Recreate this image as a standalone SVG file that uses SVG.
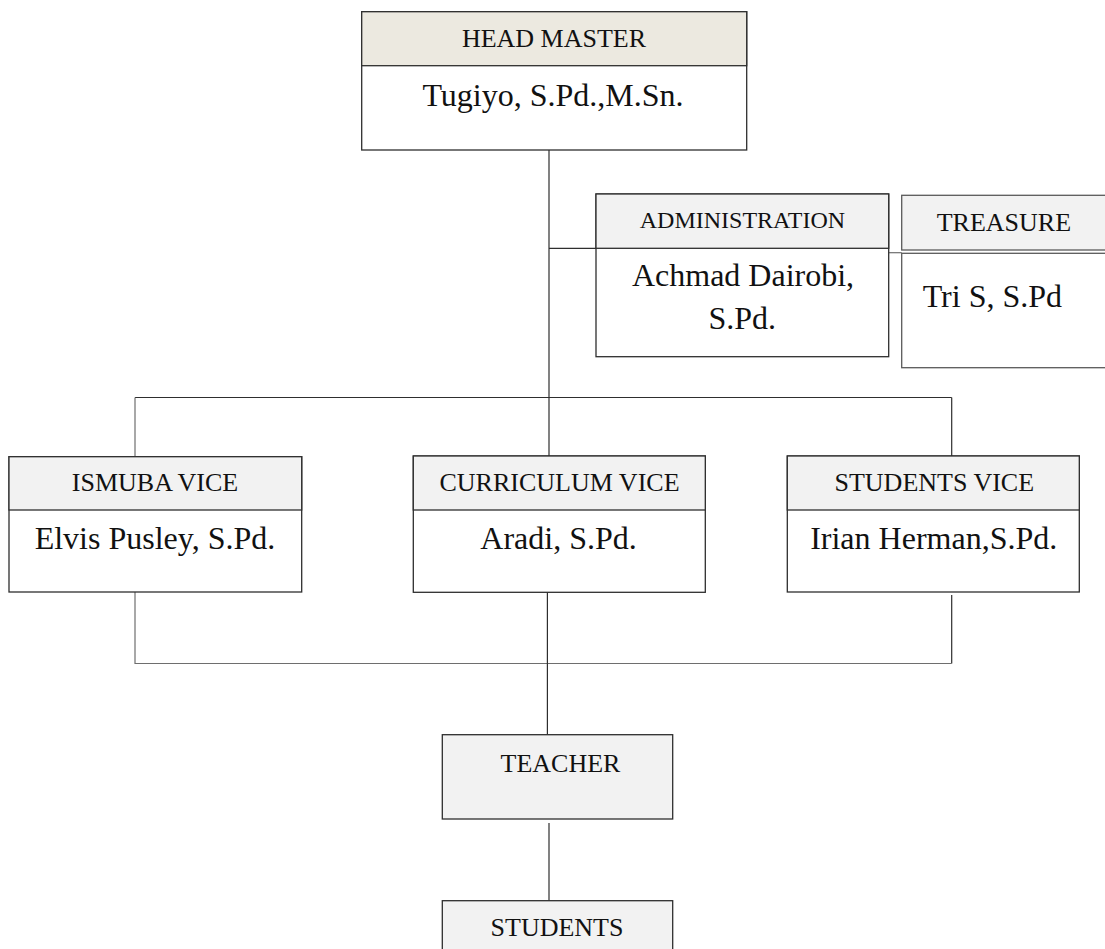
<svg xmlns="http://www.w3.org/2000/svg" width="1105" height="949" viewBox="0 0 1105 949">
<style>
.box{fill:#ffffff;stroke:#2e2e2e;stroke-width:1.3}
.hd{fill:#f2f2f2;stroke:#2e2e2e;stroke-width:1.3}
.hm{fill:#ece9e0;stroke:#2e2e2e;stroke-width:1.3}
.ln{stroke:#2e2e2e;stroke-width:1.2;fill:none}
.gl{stroke:#6e6e6e;stroke-width:1.2;fill:none}
.t{font-family:"Liberation Serif","Times New Roman",serif;font-size:26px;fill:#111}
.n{font-family:"Liberation Serif","Times New Roman",serif;font-size:32px;fill:#111}
.c{text-anchor:middle}
</style>
<rect width="1105" height="949" fill="#ffffff"/>
<g id="connectors">
<path class="ln" d="M549,150 V456"/>
<path class="ln" d="M549,248.3 H596"/>
<path class="gl" d="M888.7,252.7 H901.7"/>
<path class="ln" d="M135,397.5 H951.7"/>
<path class="gl" d="M135,397.5 V456.7"/>
<path class="ln" d="M951.7,397.5 V456"/>
<path class="gl" d="M135,592 V664"/>
<path class="ln" d="M951.7,595 V663.5"/>
<path class="gl" d="M135,663.5 H951.7"/>
<path class="ln" d="M547.4,592 V734.7"/>
<path class="ln" d="M549,823 V900.7"/>
</g>
<g id="head-master">
<rect class="box" x="361.7" y="11.7" width="385" height="138.3"/>
<rect class="hm" x="361.7" y="11.7" width="385" height="54"/>
<text class="t c" x="554" y="46.7">HEAD MASTER</text>
<text class="n c" x="553" y="106">Tugiyo, S.Pd.,M.Sn.</text>
</g>
<g id="administration">
<rect class="box" x="596" y="194" width="292.7" height="162.7"/>
<rect class="hd" x="596" y="194" width="292.7" height="54.3"/>
<text class="t c" x="742.4" y="228.3" style="font-size:24px">ADMINISTRATION</text>
<text class="n c" x="743" y="286">Achmad Dairobi,</text>
<text class="n c" x="742.2" y="329">S.Pd.</text>
</g>
<g id="treasure">
<rect class="hd" x="901.7" y="195.3" width="210" height="54.7" style="stroke:#5a5a5a"/>
<rect class="box" x="901.7" y="253.3" width="210" height="114.4" style="stroke:#5a5a5a"/>
<text class="t" x="936.7" y="230.7">TREASURE</text>
<text class="n" x="922.7" y="306.7">Tri S, S.Pd</text>
</g>
<g id="ismuba-vice">
<rect class="box" x="9" y="456.7" width="292.7" height="135.3"/>
<rect class="hd" x="9" y="456.7" width="292.7" height="53.3"/>
<text class="t c" x="155" y="490.7">ISMUBA VICE</text>
<text class="n c" x="155" y="549.3">Elvis Pusley, S.Pd.</text>
</g>
<g id="curriculum-vice">
<rect class="box" x="413.3" y="456" width="292" height="136.3"/>
<rect class="hd" x="413.3" y="456" width="292" height="54"/>
<text class="t c" x="559.5" y="490.7">CURRICULUM VICE</text>
<text class="n c" x="558.5" y="549">Aradi, S.Pd.</text>
</g>
<g id="students-vice">
<rect class="box" x="787.3" y="456" width="292" height="136"/>
<rect class="hd" x="787.3" y="456" width="292" height="54"/>
<text class="t c" x="934.3" y="490.7">STUDENTS VICE</text>
<text class="n c" x="933.7" y="549.3">Irian Herman,S.Pd.</text>
</g>
<g id="teacher">
<rect class="hd" x="442.3" y="734.7" width="230.4" height="84.3"/>
<text class="t c" x="560.5" y="771.7">TEACHER</text>
</g>
<g id="students">
<rect class="hd" x="442.3" y="900.7" width="230.4" height="60"/>
<text class="t c" x="557" y="935.7">STUDENTS</text>
</g>
</svg>
